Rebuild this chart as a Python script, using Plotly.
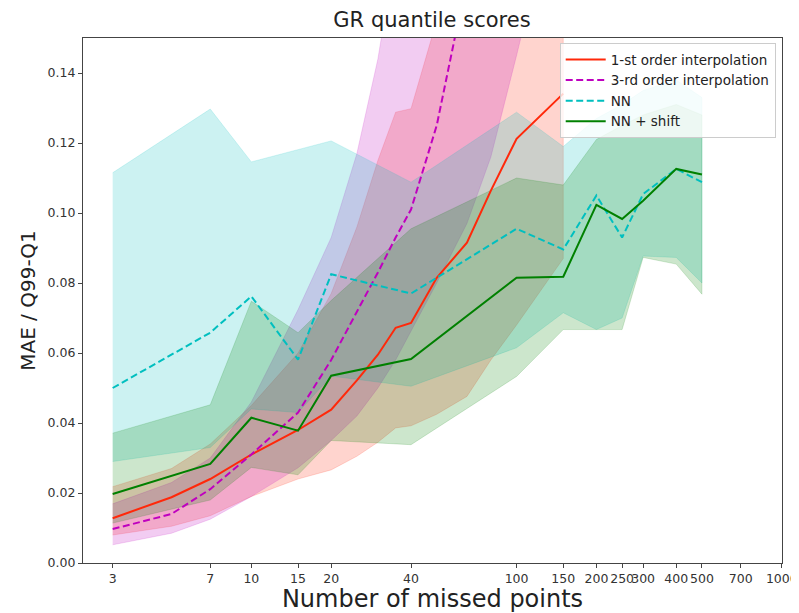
import plotly.graph_objects as go

# ---------------- data ----------------
x_first = [3, 5, 7, 10, 15, 20, 25, 30, 35, 40, 50, 65, 80, 100, 150]
first_mean = [0.0128, 0.0188, 0.0240, 0.0310, 0.0380, 0.0438, 0.0522, 0.0595, 0.0672, 0.0686, 0.0815, 0.0915, 0.1064, 0.1212, 0.1341]
first_low = [0.0080, 0.0105, 0.0135, 0.0190, 0.0240, 0.0266, 0.0305, 0.0345, 0.0386, 0.0392, 0.0425, 0.0476, 0.0580, 0.0680, 0.0870]
first_high = [0.0218, 0.0270, 0.0340, 0.0450, 0.0600, 0.0770, 0.0960, 0.1150, 0.1288, 0.1298, 0.1550, 0.1900, 0.2200, 0.2500, 0.2800]

x_third = [3, 5, 7, 10, 15, 20, 25, 30, 35, 40, 50, 65, 80, 100, 150]
third_mean = [0.0097, 0.0140, 0.0211, 0.0310, 0.0430, 0.0580, 0.0718, 0.0830, 0.0930, 0.1010, 0.1250, 0.1650, 0.2000, 0.2400, 0.3000]
third_low = [0.0052, 0.0085, 0.0125, 0.0190, 0.0272, 0.0350, 0.0420, 0.0500, 0.0580, 0.0660, 0.0800, 0.0970, 0.1160, 0.1450, 0.2000]
third_high = [0.0169, 0.0230, 0.0300, 0.0460, 0.0724, 0.0930, 0.1170, 0.1440, 0.1750, 0.2000, 0.2300, 0.2700, 0.3000, 0.3300, 0.4000]

x_nn = [3, 7, 10, 15, 20, 40, 100, 150, 200, 250, 300, 400, 500]
nn_mean = [0.0500, 0.0658, 0.0762, 0.0581, 0.0825, 0.0770, 0.0955, 0.0896, 0.1050, 0.0930, 0.1054, 0.1126, 0.1088]
nn_low = [0.0290, 0.0330, 0.0440, 0.0430, 0.0534, 0.0505, 0.0615, 0.0715, 0.0667, 0.0700, 0.0877, 0.0873, 0.0800]
nn_high = [0.1115, 0.1297, 0.1146, 0.1180, 0.1206, 0.1088, 0.1288, 0.1190, 0.1270, 0.1310, 0.1350, 0.1380, 0.1330]

x_nns = [3, 7, 10, 15, 20, 40, 100, 150, 200, 250, 300, 400, 500]
nns_mean = [0.0197, 0.0283, 0.0415, 0.0378, 0.0535, 0.0583, 0.0815, 0.0818, 0.1023, 0.0983, 0.1035, 0.1126, 0.1110]
nns_low = [0.0114, 0.0180, 0.0273, 0.0252, 0.0350, 0.0338, 0.0533, 0.0667, 0.0667, 0.0667, 0.0873, 0.0854, 0.0768]
nns_high = [0.0371, 0.0452, 0.0748, 0.0658, 0.0750, 0.0955, 0.1100, 0.1080, 0.1210, 0.1250, 0.1280, 0.1310, 0.1280]

x_ticks = [3, 7, 10, 15, 20, 40, 100, 150, 200, 250, 300, 400, 500, 700, 1000]
y_ticks = [0.00, 0.02, 0.04, 0.06, 0.08, 0.10, 0.12, 0.14]

series = [
    ("1-st order interpolation", x_first, first_mean, first_low, first_high, (255, 40, 10), "solid"),
    ("3-rd order interpolation", x_third, third_mean, third_low, third_high, (191, 0, 191), "dash"),
    ("NN", x_nn, nn_mean, nn_low, nn_high, (0, 191, 191), "dash"),
    ("NN + shift", x_nns, nns_mean, nns_low, nns_high, (0, 128, 0), "solid"),
]

fig = go.Figure()

# bands first (all below the lines, like matplotlib collections)
for name, xs, m, lo, hi, c, d in series:
    fig.add_trace(go.Scatter(
        x=list(xs) + list(xs)[::-1],
        y=list(hi) + list(lo)[::-1],
        mode="lines", fill="toself",
        fillcolor="rgba(%d,%d,%d,0.2)" % c,
        line=dict(color="rgba(%d,%d,%d,0.2)" % c, width=0.8),
        showlegend=False, hoverinfo="skip",
    ))

for name, xs, m, lo, hi, c, d in series:
    fig.add_trace(go.Scatter(
        x=xs, y=m, mode="lines", name=name,
        line=dict(color="rgb(%d,%d,%d)" % c, width=2,
                  dash=("7px,3.5px" if d == "dash" else "solid")),
    ))

axis_common = dict(
    showline=True, linecolor="#444444", linewidth=1.2, mirror=True,
    ticks="outside", ticklen=4, tickcolor="#444444", tickwidth=1,
    showgrid=False, zeroline=False, automargin=False,
    tickfont=dict(family="DejaVu Sans", size=12.5, color="#333333"),
)

fig.update_xaxes(
    type="log", range=[0.3653, 3.0008], tickangle=0,
    tickvals=x_ticks, ticktext=[str(v) for v in x_ticks],
    title=dict(text="Number of missed points", font=dict(family="DejaVu Sans", size=24, color="#222222"), standoff=5),
    **axis_common,
)
fig.update_yaxes(
    range=[0, 0.15],
    tickvals=y_ticks, ticktext=["%.2f" % v for v in y_ticks],
    title=dict(text="MAE / Q99-Q1", font=dict(family="DejaVu Sans", size=20, color="#222222"), standoff=6),
    **axis_common,
)

# the page body adds an 8px margin, so the figure is drawn 8px smaller
fig.update_layout(
    width=791, height=605,
    margin=dict(l=75, r=17, t=30, b=50, autoexpand=False),
    paper_bgcolor="white", plot_bgcolor="white",
    title=dict(text="GR quantile scores", x=0.536, xanchor="center", y=0.981, yanchor="middle",
               font=dict(family="DejaVu Sans", size=21, color="#222222")),
    legend=dict(x=0.991, y=0.99, xanchor="right", yanchor="top",
                bgcolor="rgba(255,255,255,0.8)", bordercolor="#cccccc", borderwidth=1,
                font=dict(family="DejaVu Sans", size=13.5, color="#222222"),
                itemwidth=40, tracegroupgap=0),
    showlegend=True,
)

fig.write_html("out.html")
